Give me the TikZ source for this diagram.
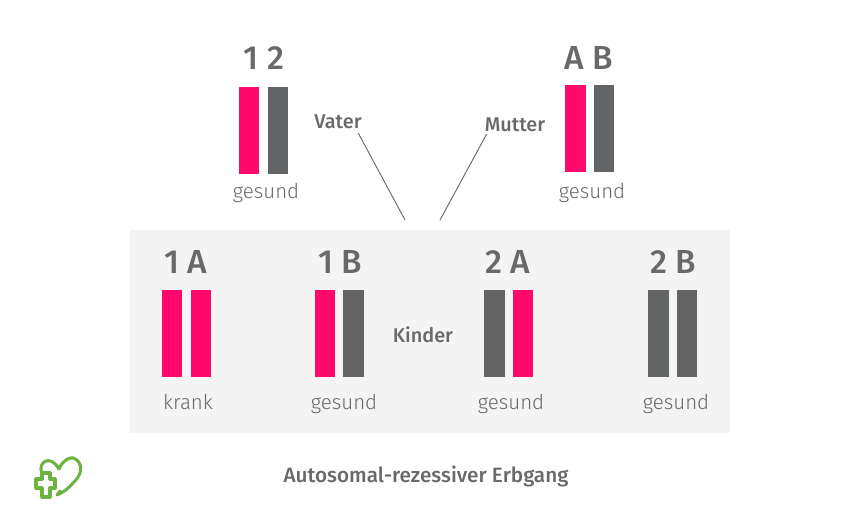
\documentclass[tikz,border=0pt]{standalone}
\usepackage{fontspec}
\setmainfont[BoldFont={Fira Sans Medium}]{Fira Sans Light}
\definecolor{panelfill}{HTML}{F4F4F4}
\definecolor{pinkbar}{HTML}{FF0A6C}
\definecolor{greybar}{HTML}{636466}
\definecolor{textgrey}{HTML}{68696B}
\definecolor{logogreen}{HTML}{6DB33F}
\tikzset{
  panel/.style={rectangle, fill=panelfill, draw=none, minimum width=18cm, minimum height=6.09cm, inner sep=0pt},
  bar/.style={rectangle, draw=none, minimum width=0.615cm, minimum height=2.61cm, inner sep=0pt},
  pink/.style={bar, fill=pinkbar},
  grey/.style={bar, fill=greybar},
  allele/.style={font=\fontsize{28.5}{32}\selectfont\bfseries, text=textgrey, inner sep=0pt},
  status/.style={font=\fontsize{17.5}{20}\selectfont, text=textgrey, inner sep=0pt},
  role/.style={font=\fontsize{17}{20}\selectfont\bfseries, text=textgrey, inner sep=0pt},
  heading/.style={role, font=\fontsize{17.7}{20}\selectfont\bfseries}
  ,pointer/.style={line width=0.8pt, draw=textgrey}
}

\begin{document}
\begin{tikzpicture}[x=0.03cm, y=-0.03cm]

\useasboundingbox (0, 0) rectangle (850, 530);

\node[panel] (kids) at (430, 331.5) {};

% parents
\node[allele] (fatherlabel) at (264, 58) {1 2};
\node[pink] (father1) at (249, 130.5) {};
\node[grey] (father2) at (278, 130.5) {};
\node[status] (fatherstate) at (266, 192.5) {gesund};

\node[allele] (motherlabel) at (589, 58) {A B};
\node[pink] (mother1) at (575.5, 128.5) {};
\node[grey] (mother2) at (604, 128.5) {};
\node[status] (motherstate) at (592, 192.5) {gesund};

\node[role] (vater) at (338, 122) {Vater};
\node[role] (mutter) at (515, 125) {Mutter};

% children
\node[allele] (kid1label) at (186, 262) {1 A};
\node[pink] (kid1a) at (172, 333.5) {};
\node[pink] (kid1b) at (201, 333.5) {};
\node[status] (kid1state) at (188, 402) {krank};

\node[allele] (kid2label) at (340, 262) {1 B};
\node[pink] (kid2a) at (325, 333.5) {};
\node[grey] (kid2b) at (353.5, 333.5) {};
\node[status] (kid2state) at (344, 403.5) {gesund};

\node[allele] (kid3label) at (508, 262) {2 A};
\node[grey] (kid3a) at (494.5, 333.5) {};
\node[pink] (kid3b) at (523, 333.5) {};
\node[status] (kid3state) at (511, 403.5) {gesund};

\node[allele] (kid4label) at (673, 262) {2 B};
\node[grey] (kid4a) at (658.5, 333.5) {};
\node[grey] (kid4b) at (687, 333.5) {};
\node[status] (kid4state) at (676, 403.5) {gesund};

\node[role] (kinder) at (423, 335) {Kinder};
\node[heading] (title) at (426, 476) {Autosomal-rezessiver Erbgang};

\coordinate (vatertip) at (405, 220);
\coordinate (muttertip) at (440, 220);
\draw[pointer] (vater.south east) ++(-3.5, 4) -- (vatertip);
\draw[pointer] (mutter.south west) ++(2, 2) -- (muttertip);

% logo
\draw[logogreen, line width=2.6pt, line join=round, line cap=round]
  (42, 473) .. controls (37, 463) and (50, 453) .. (59, 469)
  .. controls (63, 459) and (73, 455) .. (77, 460)
  .. controls (84, 467) and (80, 477) .. (73, 483)
  .. controls (68, 489) and (62, 493) .. (57, 495) -- (60, 491);
\draw[logogreen, line width=2.6pt, line join=round]
  (42, 473) -- (50, 473) -- (50, 479) -- (55, 479) -- (55, 488) -- (50, 488) -- (50, 497)
  -- (42, 497) -- (42, 488) -- (36, 488) -- (36, 479) -- (42, 479) -- cycle;

\end{tikzpicture}
\end{document}
